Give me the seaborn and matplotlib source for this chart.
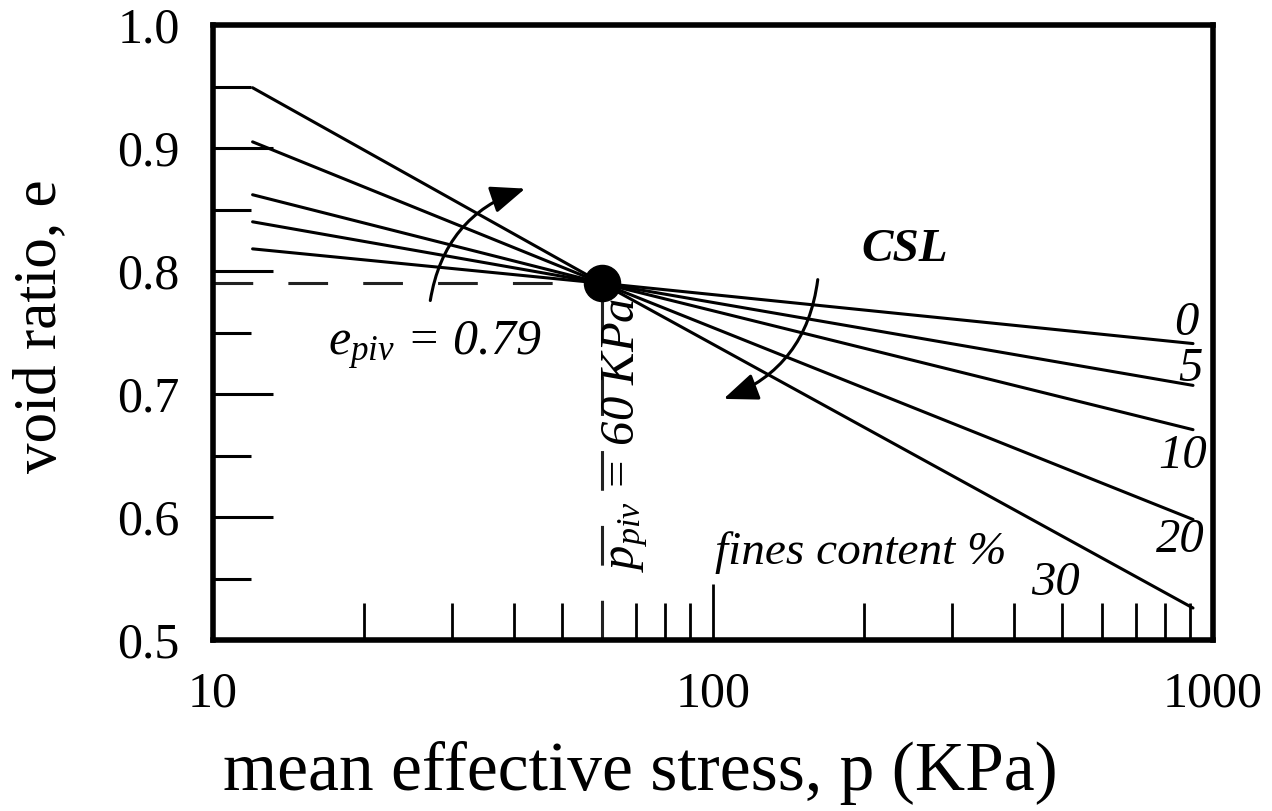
import numpy as np
import pandas as pd
import matplotlib
matplotlib.use("Agg")
import matplotlib.pyplot as plt
import seaborn as sns
from matplotlib.ticker import FixedLocator, NullFormatter, FixedFormatter

# ---- data ----
fines = ["0", "5", "10", "20", "30"]
p_start = [12, 12, 12, 12, 12]
e_start = [0.818, 0.840, 0.862, 0.905, 0.949]
p_end = [912, 912, 912, 912, 912]
e_end = [0.741, 0.707, 0.671, 0.598, 0.526]
p_piv = 60
e_piv = 0.79
x_ticklabels = ["10", "100", "1000"]
y_ticks = [0.5, 0.6, 0.7, 0.8, 0.9, 1.0]

rows = []
for f, ps, es, pe, ee in zip(fines, p_start, e_start, p_end, e_end):
    rows.append((f, ps, es))
    rows.append((f, p_piv, e_piv))
    rows.append((f, pe, ee))
df = pd.DataFrame(rows, columns=["fines", "p", "e"])

sns.set_theme(style="white")
plt.rcParams["font.family"] = ["Liberation Serif", "DejaVu Serif"]
plt.rcParams["mathtext.fontset"] = "custom"
plt.rcParams["mathtext.it"] = "Liberation Serif:italic"
plt.rcParams["mathtext.rm"] = "Liberation Serif:italic"
plt.rcParams["text.color"] = "black"
plt.rcParams["axes.labelcolor"] = "black"
plt.rcParams["xtick.color"] = "black"
plt.rcParams["ytick.color"] = "black"

fig = plt.figure(figsize=(12.72, 8.11), dpi=100)
ax = fig.add_axes([213 / 1272, 171 / 811, 1000 / 1272, 615 / 811])

sns.lineplot(data=df, x="p", y="e", hue="fines", palette=["black"] * 5,
             legend=False, lw=2.2, ax=ax, sort=False, estimator=None)

ax.set_xscale("log")
ax.set_xlim(10, 1000)
ax.set_ylim(0.5, 1.0)

# dashed guides
ax.plot([10, p_piv], [e_piv, e_piv], color="#222222", lw=2.2, dashes=(13, 11.5))
ax.plot([p_piv, p_piv], [0.5, e_piv], color="#222222", lw=2.2, dashes=(13, 11.5))
# pivot dot
ax.plot([p_piv], [e_piv], "o", color="black", ms=26, zorder=5)

# curved arrows
ax.annotate("", xy=(42.1, 0.867), xytext=(27.2, 0.776),
            arrowprops=dict(arrowstyle="-|>,head_length=0.7,head_width=0.28",
                            connectionstyle="arc3,rad=-0.3", color="black",
                            lw=2.2, mutation_scale=30, shrinkA=0, shrinkB=0))
ax.annotate("", xy=(105, 0.696), xytext=(162, 0.793),
            arrowprops=dict(arrowstyle="-|>,head_length=0.7,head_width=0.28",
                            connectionstyle="arc3,rad=-0.3", color="black",
                            lw=2.2, mutation_scale=30, shrinkA=0, shrinkB=0))

# texts
ax.text(242, 0.817, "CSL", fontsize=34, fontweight="bold", fontstyle="italic",
        ha="center", va="center")
ax.text(10 ** (1 + (328 - 213) / 500), 0.732, r"$e_{piv}$ = 0.79", fontsize=36,
        fontstyle="italic", ha="left", va="baseline")
ax.text(66.7, 0.667, r"$p_{piv}$ = 60 KPa", fontsize=35, fontstyle="italic",
        rotation=90, ha="center", va="center")
ax.text(101, 0.571, "fines content %", fontsize=34, fontstyle="italic",
        ha="left", va="center")
lab_pos = {"0": (885, 0.758), "5": (900, 0.720), "10": (871, 0.650),
           "20": (859, 0.581), "30": (483, 0.546)}
for f in fines:
    x, y = lab_pos[f]
    ax.text(x, y, f, fontsize=35, fontstyle="italic", ha="center", va="center")

# ticks
ax.xaxis.set_major_locator(FixedLocator([10, 100, 1000]))
ax.xaxis.set_major_formatter(FixedFormatter(x_ticklabels))
ax.xaxis.set_minor_locator(FixedLocator([20, 30, 40, 50, 60, 70, 80, 90,
                                         200, 300, 400, 500, 600, 700, 800, 900]))
ax.xaxis.set_minor_formatter(NullFormatter())
ax.set_yticks(y_ticks)
ax.set_yticklabels([f"{v:.1f}" for v in y_ticks])
ax.yaxis.set_minor_locator(FixedLocator([0.55, 0.65, 0.75, 0.85, 0.95]))

ax.tick_params(axis="x", which="major", direction="in", length=40, width=2,
               color="black", labelcolor="black", labelsize=36, pad=22,
               top=False, bottom=True)
ax.tick_params(axis="x", which="minor", direction="in", length=27, width=2,
               color="black", top=False, bottom=True)
ax.tick_params(axis="y", which="major", direction="in", length=43, width=2.2,
               color="black", labelcolor="black", labelsize=36, pad=24,
               right=False, left=True)
ax.tick_params(axis="y", which="minor", direction="in", length=27, width=2.2,
               color="black", left=True, right=False)

for s in ax.spines.values():
    s.set_linewidth(4)
    s.set_color("black")

ax.set_xlabel("mean effective stress, p (KPa)", fontsize=50, color="black")
ax.set_ylabel("void ratio, e", fontsize=44, color="black")
ax.xaxis.set_label_coords(0.427, -0.165)
ax.yaxis.set_label_coords(-0.145, 0.51)

fig.savefig("out.png", dpi=100)
